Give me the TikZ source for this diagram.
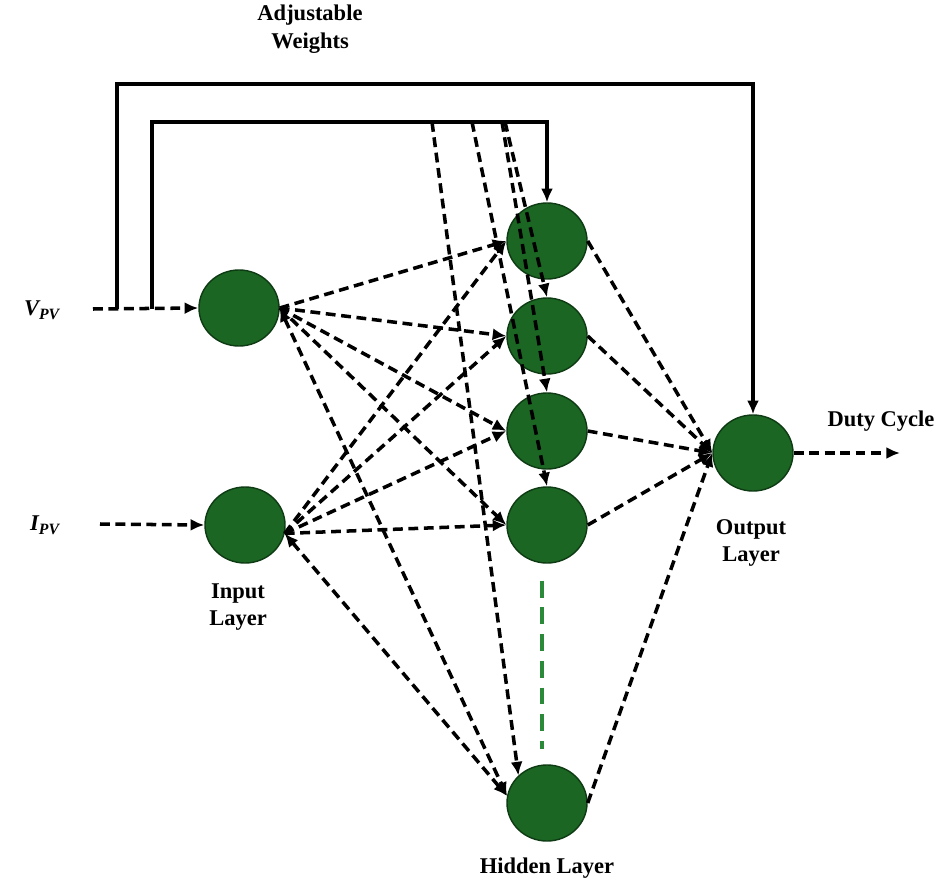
\documentclass[tikz,border=0pt]{standalone}
\usepackage{fontspec}
\setmainfont{Liberation Serif}
\usetikzlibrary{arrows.meta,shapes.geometric}
\definecolor{nFill}{HTML}{1B6623}
\definecolor{nDraw}{HTML}{0E3B13}
\definecolor{gDots}{HTML}{2B8A3A}
\tikzset{neuron/.style={ellipse, draw=nDraw, fill=nFill, line width=1pt, minimum width=2cm, minimum height=1.9cm, inner sep=0pt},
  wt/.style={-{Latex[length=3.4mm,width=3mm]}, line width=2.5pt, dash pattern=on 7pt off 4pt},
  wtb/.style={{Latex[length=3.4mm,width=3mm]}-{Latex[length=3.4mm,width=3mm]}, line width=2.5pt, dash pattern=on 7pt off 4pt},
  fb/.style={-{Latex[length=3.4mm,width=3mm]}, line width=2.5pt},
  lbl/.style={font=\fontsize{16}{19.5}\selectfont\bfseries, align=center, inner sep=1pt}}

\begin{document}
\begin{tikzpicture}[x=0.025cm,y=-0.025cm]
\useasboundingbox (0,0) rectangle (940,886);
% ---- neurons ----
\node[neuron] (i1) at (239,308) {};
\node[neuron] (i2) at (245,525) {};
\foreach \i/\y in {1/241,2/336,3/431,4/525,5/803} \node[neuron] (h\i) at (547,\y) {};
\node[neuron] (o) at (753,453) {};
\draw[gDots, line width=2.4pt, dash pattern=on 12pt off 7pt] ([shift={(-5,17)}]h4.south) -- ([shift={(-5,-15)}]h5.north);
% ---- labels ----
\node[lbl] (aw) at (310,29) {Adjustable\\Weights};
\node[lbl] (vpv) at (42,310) {\itshape V\textsubscript{PV}};
\node[lbl] (ipv) at (45,525) {\itshape I\textsubscript{PV}};
\node[lbl] (il) at (238,607) {Input\\Layer};
\node[lbl] (hl) at (547,868) {Hidden Layer};
\node[lbl] (ol) at (751,543) {Output\\Layer};
\node[lbl] (dc) at (881,421) {Duty Cycle};
% ---- inputs and feedback ----
\coordinate (vin) at (93,309); \coordinate (iin) at (100,524);
\draw[wt] (vin) -- (i1.west); \draw[wt] (iin) -- (i2.west);
\coordinate (t1) at (117,309); \coordinate (t2) at (152,309);
\coordinate (ob) at (753,84); \coordinate (hb) at (547,122);
\draw[fb] (t1) |- (ob) -- (o.north);
\draw[fb] (t2) |- (hb) -- (h1.north);
\foreach \i/\x in {2/505,3/502,4/472}{
  \coordinate (b\i) at (\x,122);
  \draw[wt] (b\i) -- (h\i.north);}
\coordinate (b5) at (432,122); \draw[wt] (b5) -- (h5.136);
% ---- input to hidden ----
\foreach \i in {1,...,4}{
  \draw[wt] (i1.east) -- (h\i.west);
  \draw[wt] (i2.-12) -- (h\i.west);}
\draw[wtb] (i1.east) -- (h5.170); \draw[wtb] (i2.-12) -- (h5.170);
% ---- hidden to output ----
\foreach \i in {1,...,5} \draw[wt] (h\i.east) -- (o.west);
\coordinate (dout) at (900,453); \draw[wt] (o.east) -- (dout);
\end{tikzpicture}
\end{document}
